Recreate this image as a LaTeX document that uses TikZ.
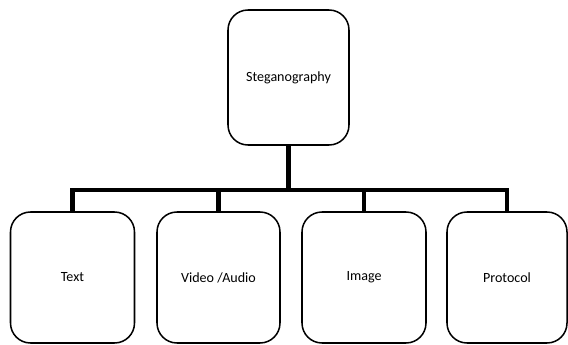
\documentclass[tikz,border=0pt]{standalone}
\usepackage{fontspec}
\setmainfont{Carlito}
\usepackage{tikz}

\tikzset{
  catbox/.style={draw, fill=white, rectangle, rounded corners=0.6cm, line width=1.3pt,
    minimum width=3.72cm, minimum height=3.93cm, font=\fontsize{12.0pt}{12.0pt}\selectfont},
  link/.style={line width=4.2pt, line join=miter}
}

\begin{document}
\begin{tikzpicture}[x=0.03cm, y=-0.03cm]%
\useasboundingbox (0,0) rectangle (568,345);%
\node[catbox, minimum width=3.63cm, minimum height=4.05cm] (steg) at (288.5, 77.5) {Steganography};%
\node[catbox] (text) at (72.5, 277.5) {Text};%
\node[catbox, minimum width=3.69cm] (video) at (218.5, 277.5) {Video /Audio};%
\node[catbox] (image) at (364, 277.5) {Image};%
\node[catbox, minimum width=3.6cm] (proto) at (507, 277.5) {Protocol};%
\coordinate (bar) at (288.5, 190);%
\draw[link] (steg.south) -- (bar);%
\foreach \leaf in {text, video, image, proto}
  \draw[link] (bar) -| (\leaf.north);%
\end{tikzpicture}
\end{document}
